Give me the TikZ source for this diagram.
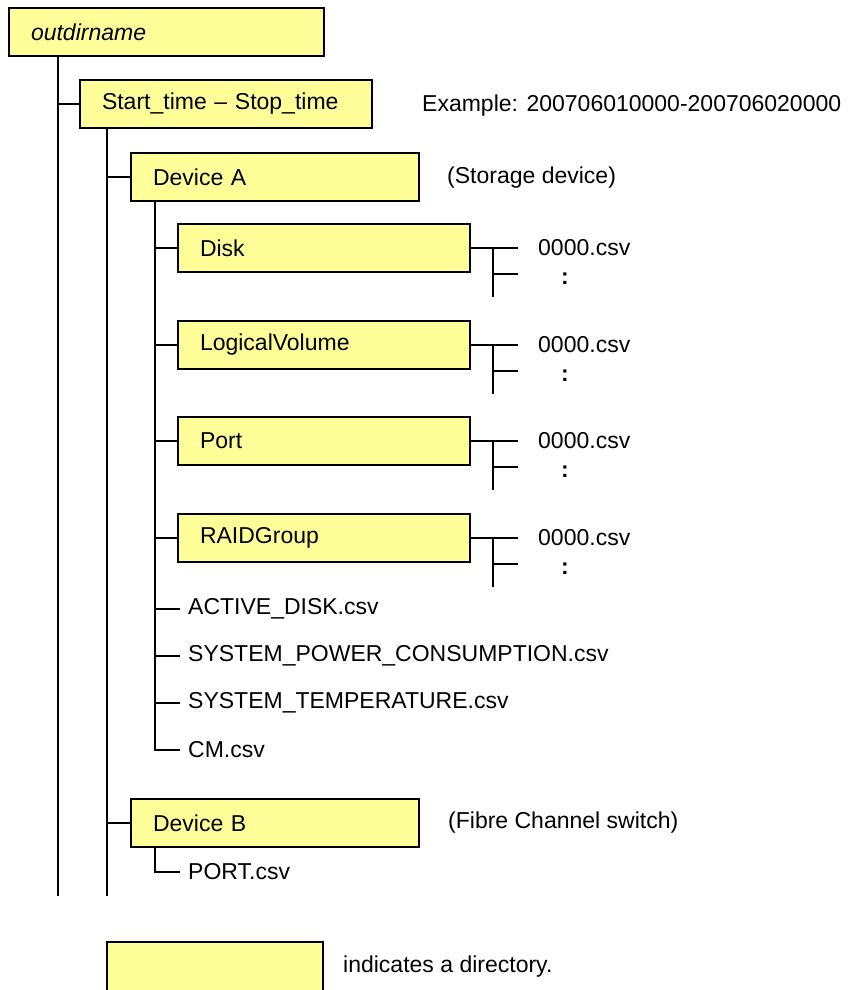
\documentclass[tikz,border=0pt]{standalone}
\usepackage{fontspec}
\setmainfont{Liberation Sans}
\usetikzlibrary{positioning}
\definecolor{dirfill}{HTML}{FFFF99}

\begin{document}
\begin{tikzpicture}[
    x=1pt,
    y=-1pt,
    font=\fontsize{23}{27}\selectfont,
    dir/.style={
        rectangle,
        draw=black,
        line width=2pt,
        fill=dirfill,
        minimum height=48pt,
        inner xsep=22pt,
        outer sep=0pt,
        text width=#1,
        anchor=north west
    },
    file/.style={
        anchor=west,
        inner xsep=8pt
    },
    csv/.style={
        anchor=west,
        inner xsep=20pt
    },
    dots/.style={
        font=\fontsize{23}{27}\selectfont\bfseries
    },
    note/.style={
        anchor=west,
        inner sep=0pt
    },
    tree/.style={
        line width=2pt
    }
]

\useasboundingbox (0,0) rectangle (859,990);
\clip (0,0) rectangle (859,990);

% Verzeichnisse
\node[dir=271pt] (outdir) at (9,8) {\itshape outdirname};
\node[dir=248pt] (span) at (80,80) {Start\_time -- Stop\_time};
\node[note] (spanex) at (422,106) {Example: 200706010000-200706020000};

\node[dir=244pt] (devA) at (131,153) {Device A};
\node[note] (devAnote) at (447,178) {(Storage device)};

\node[dir=248pt] (disk) at (178,224) {Disk};
\node[dir=248pt] (lv) at (178,321) {LogicalVolume};
\node[dir=248pt] (port) at (178,417) {Port};
\node[dir=248pt] (raid) at (178,514) {RAIDGroup};

% Dateien unter Device A
\node[file] (active) at (180,609) {ACTIVE\_DISK.csv};
\node[file] (power) at (180,656) {SYSTEM\_POWER\_CONSUMPTION.csv};
\node[file] (temp) at (180,703) {SYSTEM\_TEMPERATURE.csv};
\node[file] (cm) at (180,750) {CM.csv};

% CSV-Dateien der Unterverzeichnisse
\node[csv] (diskcsv) at (518,248) {0000.csv};
\node[dots] (diskdots) at (565,279) {:};
\node[csv] (lvcsv) at (518,345) {0000.csv};
\node[dots] (lvdots) at (565,376) {:};
\node[csv] (portcsv) at (518,441) {0000.csv};
\node[dots] (portdots) at (565,472) {:};
\node[csv] (raidcsv) at (518,538) {0000.csv};
\node[dots] (raiddots) at (565,569) {:};

\coordinate (diskfork) at (493,297);
\coordinate (diskmore) at (518,274);
\coordinate (lvfork) at (493,394);
\coordinate (lvmore) at (518,371);
\coordinate (portfork) at (493,490);
\coordinate (portmore) at (518,467);
\coordinate (raidfork) at (493,587);
\coordinate (raidmore) at (518,564);

% Device B
\node[dir=244pt] (devB) at (131,799) {Device B};
\node[note] (devBnote) at (448,823) {(Fibre Channel switch)};
\node[file] (portfile) at (180,872) {PORT.csv};

% Legende
\node[dir=172pt, minimum height=60pt] (legend) at (107,942) {};
\node[note] (legendnote) at (343,967) {indicates a directory.};

% Baumlinien
\coordinate (rootend) at (58,896);
\coordinate (spanend) at (107,896);
\coordinate (devAend) at (155,750);
\coordinate (devBend) at (155,872);

\draw[tree] (outdir.south -| rootend) -- (rootend);
\draw[tree] (rootend |- span.west) -- (span.west);
\draw[tree] (span.south -| spanend) -- (spanend);
\draw[tree] (spanend |- devA.west) -- (devA.west);
\draw[tree] (spanend |- devB.west) -- (devB.west);

\draw[tree] (devA.south -| devAend) -- (devAend) -- (cm.west);
\draw[tree] (devAend |- disk.west) -- (disk.west);
\draw[tree] (devAend |- lv.west) -- (lv.west);
\draw[tree] (devAend |- port.west) -- (port.west);
\draw[tree] (devAend |- raid.west) -- (raid.west);
\draw[tree] (devAend |- active.west) -- (active.west);
\draw[tree] (devAend |- power.west) -- (power.west);
\draw[tree] (devAend |- temp.west) -- (temp.west);

\draw[tree] (devB.south -| devBend) -- (devBend) -- (portfile.west);

% Verzweigungen zu den CSV-Dateien
\draw[tree] (disk.east) -- (diskcsv.west);
\draw[tree] (diskfork |- disk.east) -- (diskfork);
\draw[tree] (diskfork |- diskmore) -- (diskmore);
\draw[tree] (lv.east) -- (lvcsv.west);
\draw[tree] (lvfork |- lv.east) -- (lvfork);
\draw[tree] (lvfork |- lvmore) -- (lvmore);
\draw[tree] (port.east) -- (portcsv.west);
\draw[tree] (portfork |- port.east) -- (portfork);
\draw[tree] (portfork |- portmore) -- (portmore);
\draw[tree] (raid.east) -- (raidcsv.west);
\draw[tree] (raidfork |- raid.east) -- (raidfork);
\draw[tree] (raidfork |- raidmore) -- (raidmore);

\end{tikzpicture}
\end{document}
